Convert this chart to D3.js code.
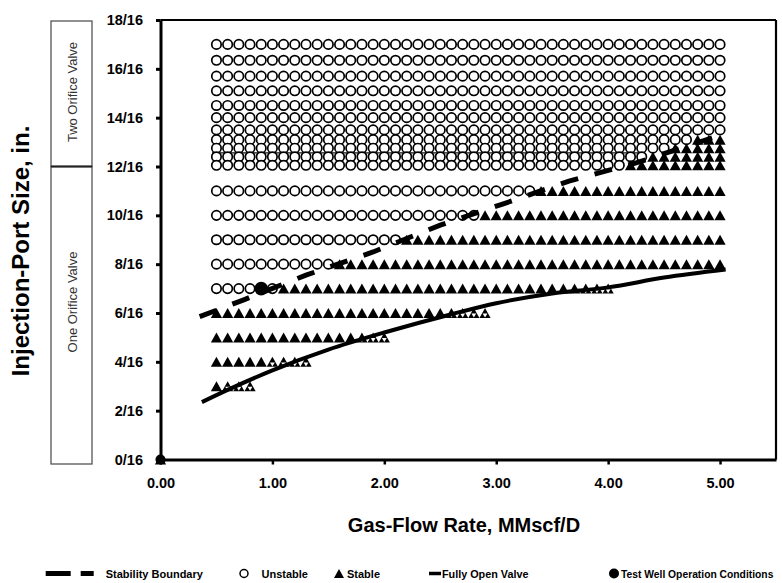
<!DOCTYPE html>
<html><head><meta charset="utf-8">
<script src="https://cdn.jsdelivr.net/npm/d3@7"></script>
<style>body{margin:0;background:#fff}svg{display:block;font-family:Arial,"Liberation Sans",sans-serif}</style>
</head><body><svg id="c" width="782" height="583"></svg>
<script>
// ---------- data ----------
const flowRates = [0.5,0.6,0.7,0.8,0.9,1.0,1.1,1.2,1.3,1.4,1.5,1.6,1.7,1.8,1.9,2.0,2.1,2.2,2.3,2.4,2.5,2.6,2.7,2.8,2.9,3.0,3.1,3.2,3.3,3.4,3.5,3.6,3.7,3.8,3.9,4.0,4.1,4.2,4.3,4.4,4.5,4.6,4.7,4.8,4.9,5.0];
const portSizes   = [17, 16.35, 15.7, 15.1, 14.5, 14.0, 13.5, 13.1, 12.75, 12.4, 12.05, 11, 10, 9, 8, 7, 6, 5, 4, 3];
const unstableMax = [5.0, 5.0, 5.0, 5.0, 5.0, 5.0, 5.0, 4.7, 4.5, 4.3, 4.1, 3.3, 2.8, 2.1, 1.5, 1.0, null, null, null, null];
const stableMin   = [null, null, null, null, null, null, null, 4.8, 4.6, 4.4, 4.2, 3.4, 2.9, 2.2, 1.6, 1.1, 0.5, 0.5, 0.5, 0.5];
const stableMax   = [null, null, null, null, null, null, null, 5.0, 5.0, 5.0, 5.0, 5.0, 5.0, 5.0, 5.0, 4.0, 2.9, 2.0, 1.3, 0.8];
const notchRows = [7, 6, 5, 4, 3];
const notchFrom = [3.8, 2.6, 1.8, 1.0, 0.6];
const boundaryX = [0.35, 0.75, 1.3, 1.9, 2.5, 3.05, 3.65, 4.25, 5.05];
const boundaryY = [5.85, 6.55, 7.55, 8.5, 9.6, 10.45, 11.4, 12.15, 13.35];
const openValveX = [0.37, 0.6, 1.0, 1.5, 2.0, 2.6, 3.0, 3.5, 4.0, 4.5, 5.05];
const openValveY = [2.35, 2.85, 3.65, 4.5, 5.2, 5.95, 6.4, 6.8, 7.05, 7.45, 7.78];
const testWell = [0.9, 7];
const guideLine = {y: 12.56, x0: 0.46, x1: 4.3};
const xTicks = [0, 1, 2, 3, 4, 5];
const xTickLabels = ["0.00", "1.00", "2.00", "3.00", "4.00", "5.00"];
const yTicks = [0, 2, 4, 6, 8, 10, 12, 14, 16, 18];
const yTickLabels = ["0/16","2/16","4/16","6/16","8/16","10/16","12/16","14/16","16/16","18/16"];
const legendLabels = ["Stability Boundary", "Unstable", "Stable", "Fully Open Valve", "Test Well Operation Conditions"];

// ---------- scales ----------
const svg = d3.select("#c");
const x = d3.scaleLinear().domain([0, 5.5]).range([160.5, 776]);
const y = d3.scaleLinear().domain([0, 18]).range([459.5, 20]);
const eps = 1e-6;

// rows -> points
const unstablePts = [], stablePts = [];
portSizes.forEach((p, i) => {
  flowRates.forEach(q => {
    if (unstableMax[i] !== null && q <= unstableMax[i] + eps) unstablePts.push([q, p]);
    if (stableMin[i] !== null && q >= stableMin[i] - eps && q <= stableMax[i] + eps) stablePts.push([q, p]);
  });
});
const notchPts = stablePts.filter(d => {
  const k = notchRows.indexOf(d[1]);
  return k >= 0 && d[0] >= notchFrom[k] - eps;
});

// ---------- side boxes ----------
svg.append("rect").attr("x", 51).attr("y", 21).attr("width", 41).attr("height", y(12) - 21)
  .attr("fill", "none").attr("stroke", "#555").attr("stroke-width", 1.3);
svg.append("rect").attr("x", 51).attr("y", y(12)).attr("width", 41).attr("height", 464 - y(12))
  .attr("fill", "none").attr("stroke", "#555").attr("stroke-width", 1.3);
svg.append("line").attr("x1", 51).attr("x2", 92).attr("y1", y(12)).attr("y2", y(12))
  .attr("stroke", "#222").attr("stroke-width", 2);
svg.append("text").attr("transform", "translate(76.5,92) rotate(-90)").attr("text-anchor", "middle")
  .attr("font-size", 13).attr("fill", "#333").text("Two Orifice Valve");
svg.append("text").attr("transform", "translate(76.5,302) rotate(-90)").attr("text-anchor", "middle")
  .attr("font-size", 13).attr("fill", "#333").text("One Orifice Valve");

// ---------- axes ----------
const gx = svg.append("g").attr("transform", `translate(0,${y(0)})`)
  .call(d3.axisBottom(x).tickValues(xTicks).tickFormat((d, i) => xTickLabels[i]).tickSize(5).tickSizeOuter(0).tickPadding(13));
gx.select(".domain").attr("stroke", "#000").attr("stroke-width", 3);
gx.selectAll(".tick line").attr("stroke", "#000").attr("stroke-width", 2.5);
gx.selectAll(".tick text").attr("font-size", 14.5).attr("font-weight", "bold").attr("fill", "#000")
  .attr("font-family", "Arial, 'Liberation Sans', sans-serif");

const gy = svg.append("g").attr("transform", `translate(${x(0)},0)`)
  .call(d3.axisLeft(y).tickValues(yTicks).tickFormat((d, i) => yTickLabels[i]).tickSize(4.5).tickSizeOuter(0).tickPadding(13));
gy.select(".domain").attr("stroke", "#000").attr("stroke-width", 3);
gy.selectAll(".tick line").attr("stroke", "#000").attr("stroke-width", 3);
gy.selectAll(".tick text").attr("font-size", 14.5).attr("font-weight", "bold").attr("fill", "#000")
  .attr("font-family", "Arial, 'Liberation Sans', sans-serif");

// top and right borders
svg.append("line").attr("x1", x(0)).attr("x2", x(5.5)).attr("y1", y(18)).attr("y2", y(18))
  .attr("stroke", "#000").attr("stroke-width", 2.2);
svg.append("line").attr("x1", x(5.5)).attr("x2", x(5.5)).attr("y1", y(18)).attr("y2", y(0))
  .attr("stroke", "#000").attr("stroke-width", 2.2);

// ---------- markers ----------
const tri = "M0,-5L5.6,5L-5.6,5Z";
const notch = "M-2.4,0.6L2.4,0.6L0,4.6Z";
const plot = svg.append("g");

plot.append("line").attr("x1", x(guideLine.x0)).attr("x2", x(guideLine.x1))
  .attr("y1", y(guideLine.y)).attr("y2", y(guideLine.y)).attr("stroke", "#111").attr("stroke-width", 1.2);

plot.selectAll("circle.u").data(unstablePts).join("circle").attr("class", "u")
  .attr("cx", d => x(d[0])).attr("cy", d => y(d[1])).attr("r", 4.7)
  .attr("fill", "#fff").attr("stroke", "#000").attr("stroke-width", 1.7);

plot.selectAll("path.s").data(stablePts).join("path").attr("class", "s")
  .attr("transform", d => `translate(${x(d[0])},${y(d[1])})`).attr("d", tri).attr("fill", "#000");

plot.selectAll("path.n").data(notchPts).join("path").attr("class", "n")
  .attr("transform", d => `translate(${x(d[0])},${y(d[1])})`).attr("d", notch).attr("fill", "#fff");

// origin markers
plot.append("circle").attr("cx", x(0)).attr("cy", y(0)).attr("r", 5).attr("fill", "#000");
plot.append("path").attr("transform", `translate(${x(0)},${y(0)})`).attr("d", tri).attr("fill", "#000");

// lines
plot.append("path").datum(openValveX.map((v, i) => [v, openValveY[i]]))
  .attr("d", d3.line().x(d => x(d[0])).y(d => y(d[1])).curve(d3.curveMonotoneX))
  .attr("fill", "none").attr("stroke", "#000").attr("stroke-width", 4);
plot.append("path").datum(boundaryX.map((v, i) => [v, boundaryY[i]]))
  .attr("d", d3.line().x(d => x(d[0])).y(d => y(d[1]))).attr("fill", "none").attr("stroke", "#000")
  .attr("stroke-width", 5).attr("stroke-dasharray", "18,17");

// test well
plot.append("circle").attr("cx", x(testWell[0])).attr("cy", y(testWell[1])).attr("r", 6.8).attr("fill", "#000");

// ---------- titles ----------
svg.append("text").attr("x", 464).attr("y", 532).attr("text-anchor", "middle")
  .attr("font-size", 20).attr("font-weight", "bold").text("Gas-Flow Rate, MMscf/D");
svg.append("text").attr("transform", "translate(29,251) rotate(-90)").attr("text-anchor", "middle")
  .attr("font-size", 24).attr("font-weight", "bold").text("Injection-Port Size, in.");

// ---------- legend ----------
const lg = svg.append("g").attr("font-size", 11).attr("font-weight", "bold");
const ly = 573.5;
lg.append("line").attr("x1", 45.7).attr("x2", 94).attr("y1", ly).attr("y2", ly)
  .attr("stroke", "#000").attr("stroke-width", 5).attr("stroke-dasharray", "25,10,13,100");
lg.append("text").attr("x", 105.7).attr("y", 577.5).text(legendLabels[0]);
lg.append("circle").attr("cx", 244).attr("cy", ly).attr("r", 4).attr("fill", "#fff").attr("stroke", "#000").attr("stroke-width", 1.5);
lg.append("text").attr("x", 261.5).attr("y", 577.5).text(legendLabels[1]);
lg.append("path").attr("transform", `translate(339,${ly})`).attr("d", "M0,-4.5L5,4.5L-5,4.5Z").attr("fill", "#000");
lg.append("text").attr("x", 347).attr("y", 577.5).text(legendLabels[2]);
lg.append("line").attr("x1", 429).attr("x2", 441).attr("y1", ly).attr("y2", ly).attr("stroke", "#000").attr("stroke-width", 3.5);
lg.append("text").attr("x", 442).attr("y", 577.5).attr("font-size", 10.8).text(legendLabels[3]);
lg.append("circle").attr("cx", 614).attr("cy", ly).attr("r", 5).attr("fill", "#000");
lg.append("text").attr("x", 621).attr("y", 577.5).attr("font-size", 10.3).text(legendLabels[4]);
</script></body></html>
